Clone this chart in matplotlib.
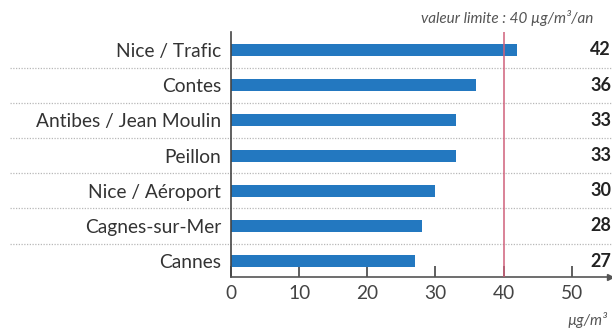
import matplotlib
matplotlib.use('Agg')
import matplotlib.pyplot as plt

stations = ['Nice / Trafic', 'Contes', 'Antibes / Jean Moulin', 'Peillon',
            'Nice / Aéroport', 'Cagnes-sur-Mer', 'Cannes']
values = [42, 36, 33, 33, 30, 28, 27]
limit = 40
xticks = [0, 10, 20, 30, 40, 50]

plt.rcParams['font.family'] = ['Lato', 'DejaVu Sans']

W, H = 612, 329
fig = plt.figure(figsize=(W / 100, H / 100), dpi=100)
# axes placed in pixels: x=0 at 231px, axis line at y=277px, top at 32px
left, right, top, bottom = 231, 610, 32, 277
ax = fig.add_axes([left / W, 1 - bottom / H, (right - left) / W, (bottom - top) / H])

n = len(stations)
ypos = [n - 1 - i for i in range(n)]
ax.barh(ypos, values, height=0.34, color='#2378c0', zorder=2)

ax.set_xlim(0, 55.6)
ax.set_ylim(-0.45, n - 1 + 0.51)

ax.set_yticks(ypos)
ax.set_yticklabels(stations, fontsize=13.8, color='#333333')
ax.set_xticks(xticks)
ax.set_xticklabels([str(t) for t in xticks], fontsize=13.8, color='#444444')
ax.tick_params(axis='y', length=0, pad=7)
ax.tick_params(axis='x', direction='in', length=8, width=1.2, color='#444444', pad=6)

for s in ['top', 'right']:
    ax.spines[s].set_visible(False)
ax.spines['left'].set_color('#444444')
ax.spines['bottom'].set_color('#555555')
ax.spines['left'].set_linewidth(1.2)
ax.spines['bottom'].set_linewidth(1.2)

# arrow at the end of the x axis
ax.plot(1, 0, '>', color='#555555', markersize=4, transform=ax.transAxes, clip_on=False)

# dotted separators between rows
tr = ax.get_yaxis_transform()
x0 = (10 - left) / (right - left)
x1 = (W - left) / (right - left)
for k in range(n - 1):
    y = k + 0.5
    ax.plot([x0, x1], [y, y], transform=tr, color='#b8b8b8', linestyle=(0, (1, 1.2)),
            linewidth=0.9, clip_on=False, zorder=1)

# limit line
ax.axvline(limit, color='#d0607a', linewidth=1.1, zorder=3)

# value labels on the right
for y, v in zip(ypos, values):
    ax.text(1.0 + (590 - right) / (right - left), y, str(v), transform=tr,
            ha='left', va='center', fontsize=13, fontweight='bold', color='#222222')

fig.text(421 / W, 1 - 18 / H, 'valeur limite : 40 µg/m³/an', fontsize=11,
         style='italic', color='#555555', ha='left', va='center')
fig.text(567 / W, 1 - 320 / H, 'µg/m³', fontsize=11, style='italic',
         color='#555555', ha='left', va='center')

fig.savefig('out.png', dpi=100)
